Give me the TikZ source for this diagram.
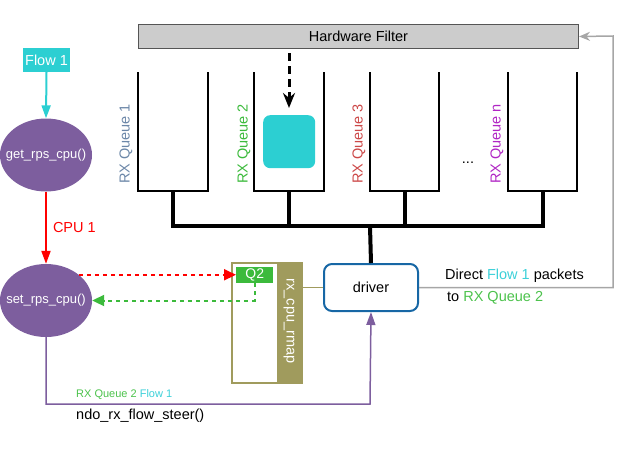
\documentclass[tikz,border=0pt]{standalone}
\usepackage{fontspec}
\setmainfont{Liberation Sans}
\usetikzlibrary{arrows.meta,shapes.geometric}
\definecolor{fgray}{HTML}{CCCCCC}
\definecolor{fborder}{HTML}{555555}
\definecolor{fbline}{HTML}{A6A6A6}
\definecolor{cy}{HTML}{2CCFD2}
\definecolor{cytext}{HTML}{3CD0D8}
\definecolor{purp}{HTML}{7D5E9E}
\definecolor{grn}{HTML}{3CBA3C}
\definecolor{grntext}{HTML}{4CC24C}
\definecolor{olive}{HTML}{A09B5D}
\definecolor{drvblue}{HTML}{1767A5}
\definecolor{q1col}{HTML}{6C87A8}
\definecolor{q3col}{HTML}{CC4848}
\definecolor{qncol}{HTML}{B026C4}
\definecolor{redc}{HTML}{FF0000}
\begin{document}
\begin{tikzpicture}[x=1pt,y=-1pt,
  big/.style={font=\fontsize{14.5}{17}\selectfont},
  small/.style={font=\fontsize{11}{13}\selectfont},
  ell/.style={ellipse,fill=purp,minimum width=92,minimum height=73,inner sep=0},
  elltext/.style={text=white,inner sep=0,font=\fontsize{13}{15}\selectfont},
  queue/.style={line width=2,line join=miter},
  bus/.style={line width=4},
  qlabel/.style={big,rotate=90,inner sep=0},
  tri/.style={-{Triangle[length=13,width=9]}},
]
\useasboundingbox (0,0) rectangle (640,453);

% Hardware filter
\node[draw=fborder,fill=fgray,line width=1,minimum width=440,minimum height=24,inner sep=0,anchor=north west,big] (hf) at (138,24) {Hardware Filter};

% queues
\draw[queue] (138,72) |- (208,191) -- (208,72);
\draw[queue] (254,72) |- (324,191) -- (324,72);
\draw[queue] (370,72) |- (439,191) -- (439,72);
\draw[queue] (508,72) |- (577,191) -- (577,72);

\node[qlabel,text=q1col] (lq1) at (126,144) {RX Queue 1};
\node[qlabel,text=grn] (lq2) at (244,144) {RX Queue 2};
\node[qlabel,text=q3col] (lq3) at (359,144) {RX Queue 3};
\node[qlabel,text=qncol] (lqn) at (497,144) {RX Queue n};
\node[big,inner sep=0] (dots) at (468,163) {...};

% packet in queue 2
\node[fill=cy,rounded corners=7,minimum width=52,minimum height=53,inner sep=0,anchor=north west] (pkt) at (263,115) {};
\coordinate (ds) at (289,53);
\coordinate (de) at (289,108);
\draw[line width=3,dash pattern=on 8 off 5,-{Stealth[length=15,width=12]}] (ds) -- (de);

% bus
\coordinate (s1) at (173,190);
\coordinate (s2) at (289,190);
\coordinate (s3) at (405,190);
\coordinate (sn) at (543,190);
\coordinate (b1) at (173,226);
\coordinate (bn) at (543,226);
\coordinate (bm) at (370,226);
\draw[bus] (s1) -- (b1) -- (bn) -- (sn);
\draw[bus] (s2) -- (s2 |- b1);
\draw[bus] (s3) -- (s3 |- b1);

% driver
\node[draw=drvblue,line width=2,rounded corners=8,minimum width=94,minimum height=47,inner sep=0,anchor=north west,big] (drv) at (323,263) {driver};
\draw[bus] (bm) -- (drv.north);

% feedback to filter
\coordinate (fb) at (613,36);
\draw[fbline,line width=1.5,-{Stealth[length=11,width=9]}] (drv.east) -| (fb) -- (hf.east);
\node[big,anchor=west,inner sep=0] (t1) at (445,276) {Direct \textcolor{cytext}{Flow 1} packets};
\node[big,anchor=west,inner sep=0] (t2) at (447,298) {to \textcolor{grntext}{RX Queue 2}};

% rx_cpu_rmap
\node[draw=olive,line width=1.5,minimum width=70,minimum height=120,inner sep=0,anchor=north west] (rmapbox) at (231,262) {};
\node[fill=olive,minimum width=24,minimum height=120,inner sep=0,anchor=north west] (rmap) at (277,262) {};
\node[big,text=white,rotate=-90,inner sep=0] (rmaptxt) at (289,321) {rx\_cpu\_rmap};
\node[fill=grn,text=white,minimum width=37,minimum height=16,inner sep=0,anchor=north west,font=\fontsize{14}{16}\selectfont] (q2) at (236,267) {Q2};
\draw[olive,line width=1.5] (drv.west -| rmap.east) -- (drv.west);

% left column
\node[fill=cy,text=white,minimum width=47,minimum height=24,inner sep=0,big] (flow) at (46.5,60) {Flow 1};
\node[ell] (get) at (46,155) {};
\node[elltext] (gettxt) at (get.center) {get\_rps\_cpu()};
\node[ell] (set) at (46,300.5) {};
\node[elltext] (settxt) at (set.center) {set\_rps\_cpu()};
\draw[cy,line width=2,tri] (flow.south) -- (get.north);
\draw[redc,line width=2,tri] (get.south) -- (set.north) node[midway,right=6pt,big,text=redc,inner sep=0] (cpu) {CPU 1};

% dashed arrows
\draw[redc,line width=2,dash pattern=on 4 off 4,-{Triangle[length=12,width=11]}] (set.38) -- (set.38 -| q2.west);
\draw[grn,line width=2,dash pattern=on 4 off 4,-{Triangle[length=12,width=11]}] (q2.south) |- (set.east);

% ndo_rx_flow_steer
\coordinate (pb) at (370,404);
\draw[purp,line width=1.5,-{Triangle[length=13,width=9]}] (set.south) |- (pb) -- (drv.south);
\node[small,anchor=west,inner sep=0] (lbl1) at (76,395) {\textcolor{grntext}{RX Queue 2} \textcolor{cytext}{Flow 1}};
\node[big,anchor=west,inner sep=0] (lbl2) at (76,416) {ndo\_rx\_flow\_steer()};
\end{tikzpicture}
\end{document}
